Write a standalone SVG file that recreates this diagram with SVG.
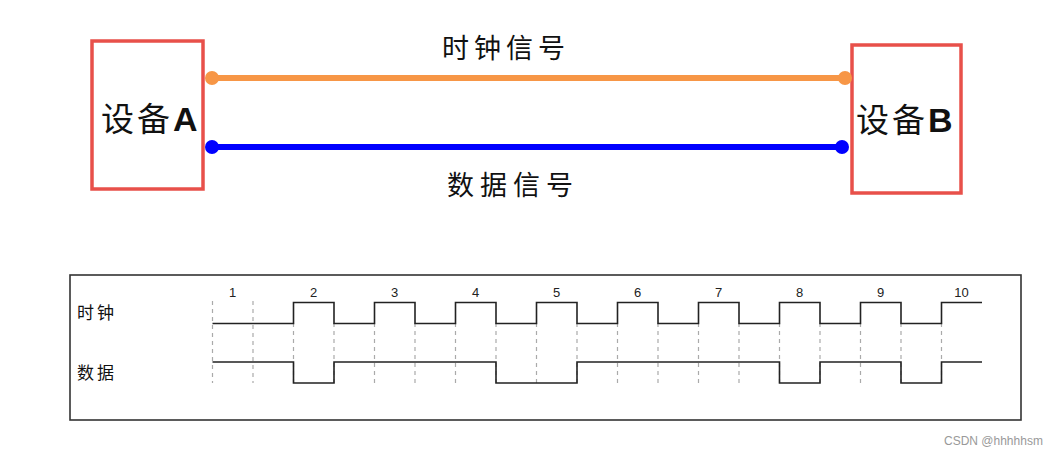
<svg xmlns="http://www.w3.org/2000/svg" width="1059" height="455" viewBox="0 0 1059 455">
<style>
.box{fill:#fff;stroke:#e8504a;stroke-width:3.5}
.cjk{font-family:"Noto Sans CJK SC","Liberation Sans",sans-serif;fill:#111}
.lat{font-family:"Liberation Sans",Arial,sans-serif;font-weight:bold;fill:#111}
.grid{stroke:#aaa;stroke-width:1.2;stroke-dasharray:4,4;fill:none}
.wave{stroke:#222;stroke-width:1.6;fill:none}
.num{font-family:"Liberation Sans",Arial,sans-serif;font-size:13px;fill:#222;text-anchor:middle}
</style>
<rect width="1059" height="455" fill="#fff"/>
<g id="deviceA">
<rect class="box" x="92" y="41" width="111" height="148"/>
<text class="cjk" x="101" y="131" font-size="33" letter-spacing="3">设备<tspan class="lat" font-size="34" letter-spacing="0">A</tspan></text>
</g>
<g id="deviceB">
<rect class="box" x="852" y="45" width="109" height="148"/>
<text class="cjk" x="856" y="132" font-size="33" letter-spacing="3">设备<tspan class="lat" font-size="34" letter-spacing="0">B</tspan></text>
</g>
<g id="connectors">
<line x1="212" y1="78" x2="845" y2="78" stroke="#f79646" stroke-width="6"/>
<circle cx="212" cy="78" r="7" fill="#f79646"/>
<circle cx="845" cy="78" r="7" fill="#f79646"/>
<line x1="212" y1="147" x2="842" y2="147" stroke="#0000ff" stroke-width="6"/>
<circle cx="212" cy="147" r="7" fill="#0000ff"/>
<circle cx="842" cy="147" r="7" fill="#0000ff"/>
</g>
<g id="labels">
<text class="cjk" x="506" y="58" font-size="27" letter-spacing="5" text-anchor="middle">时钟信号</text>
<text class="cjk" x="513" y="195" font-size="27" letter-spacing="6" text-anchor="middle">数据信号</text>
</g>
<g id="timing">
<rect x="70" y="275" width="951" height="145" fill="#fff" stroke="#333" stroke-width="1.6"/>
<text class="cjk" x="77" y="319" font-size="17" letter-spacing="3">时钟</text>
<text class="cjk" x="77" y="379" font-size="17" letter-spacing="3">数据</text>
<path class="grid" d="M212.5 301V383M253 301V383M293.5 323V383M334 323V383M374.5 323V383M415 323V383M455.5 323V383M496 323V383M536.5 323V383M577 323V383M617.5 323V383M658 323V383M698.5 323V383M739 323V383M779.5 323V383M820 323V383M860.5 323V383M901 323V383M941.5 323V383"/>
<path class="wave" d="M212.5 323.5H293.5V302.5H334V323.5H374.5V302.5H415V323.5H455.5V302.5H496V323.5H536.5V302.5H577V323.5H617.5V302.5H658V323.5H698.5V302.5H739V323.5H779.5V302.5H820V323.5H860.5V302.5H901V323.5H941.5V302.5H982"/>
<path class="wave" d="M212.5 362H293.5V383H334V362H496V383H577V362H779.5V383H820V362H901V383H941.5V362H982"/>
<text class="num" x="232.5" y="297">1</text>
<text class="num" x="313.5" y="297">2</text>
<text class="num" x="394.5" y="297">3</text>
<text class="num" x="475.5" y="297">4</text>
<text class="num" x="556.5" y="297">5</text>
<text class="num" x="637.5" y="297">6</text>
<text class="num" x="718.5" y="297">7</text>
<text class="num" x="799.5" y="297">8</text>
<text class="num" x="880.5" y="297">9</text>
<text class="num" x="961.5" y="297">10</text>
</g>
<text x="944" y="445" font-family="Liberation Sans,Arial,sans-serif" font-size="12" fill="#999">CSDN @hhhhhsm</text>
</svg>
